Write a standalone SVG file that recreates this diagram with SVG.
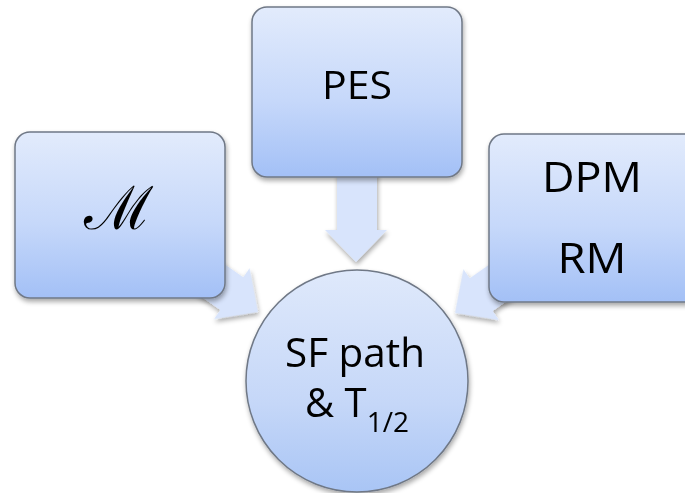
<svg xmlns="http://www.w3.org/2000/svg" width="685" height="493" viewBox="0 0 685 493">
<defs>
<linearGradient id="boxGrad" x1="0" y1="0" x2="0" y2="1">
<stop offset="0" stop-color="#e2ebfc"/>
<stop offset="0.55" stop-color="#c6d8fa"/>
<stop offset="1" stop-color="#a3c0f6"/>
</linearGradient>
<linearGradient id="circGrad" x1="0" y1="0" x2="0" y2="1">
<stop offset="0" stop-color="#dfe9fb"/>
<stop offset="0.6" stop-color="#c5d7f8"/>
<stop offset="1" stop-color="#a9c5f5"/>
</linearGradient>
<filter id="shadow" x="-20%" y="-20%" width="140%" height="140%">
<feGaussianBlur in="SourceAlpha" stdDeviation="2.5"/>
<feOffset dx="1" dy="3" result="b"/>
<feComponentTransfer><feFuncA type="linear" slope="0.35"/></feComponentTransfer>
<feMerge><feMergeNode/><feMergeNode in="SourceGraphic"/></feMerge>
</filter>
<path id="arrow" d="M0,-20 L60,-20 L60,-31 L92,0 L60,31 L60,20 L0,20 Z"/>
</defs>
<style>
.box{fill:url(#boxGrad);stroke:#6f7886;stroke-width:1.5;}
.circ{fill:url(#circGrad);stroke:#6f7886;stroke-width:1.5;}
.arr{fill:#d8e4fc;}
.lbl{font-family:"Open Sans","Liberation Sans",sans-serif;font-size:38px;fill:#000;text-anchor:middle;}
</style>
<g id="connectors" filter="url(#shadow)">
<polygon class="arr" points="337,170 377,170 377,230 387,230 356,262 325,230 337,230"/>
<use href="#arrow" class="arr" transform="translate(258,312) rotate(35) translate(-92,0)"/>
<use href="#arrow" class="arr" transform="translate(455,313) rotate(145) translate(-92,0)"/>
</g>
<g id="node-M" filter="url(#shadow)">
<rect class="box" x="15" y="132" width="210" height="166" rx="15"/>
<text x="118" y="229" font-family="DejaVu Serif, serif" font-size="60" text-anchor="middle">ℳ</text>
</g>
<g id="node-PES" filter="url(#shadow)">
<rect class="box" x="252" y="7" width="210" height="170" rx="15"/>
<text class="lbl" x="357" y="99" textLength="70" lengthAdjust="spacingAndGlyphs">PES</text>
</g>
<g id="node-DPM" filter="url(#shadow)">
<rect class="box" x="489" y="134" width="215" height="168" rx="15"/>
<text class="lbl" x="592" y="192" style="font-size:42px" textLength="100" lengthAdjust="spacingAndGlyphs">DPM</text>
<text class="lbl" x="592" y="273" style="font-size:42px" textLength="69" lengthAdjust="spacingAndGlyphs">RM</text>
</g>
<g id="node-SF" filter="url(#shadow)">
<circle class="circ" cx="357" cy="381" r="111"/>
<text class="lbl" x="355" y="367" style="font-size:40px" textLength="140" lengthAdjust="spacingAndGlyphs">SF path</text>
<text class="lbl" x="357" y="417" style="font-size:40px">&amp; T<tspan font-size="28" dy="15">1/2</tspan></text>
</g>
</svg>
